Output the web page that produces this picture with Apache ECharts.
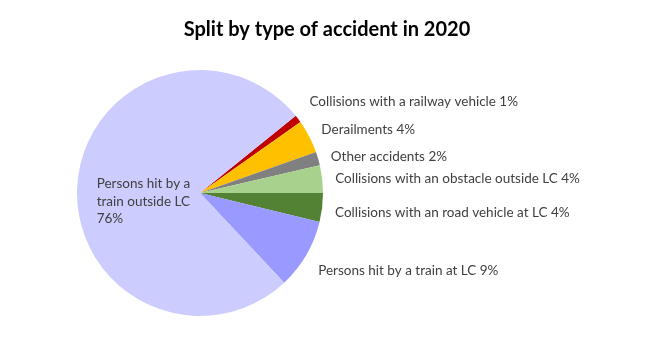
<!DOCTYPE html>
<html>
<head>
<meta charset="utf-8">
<script src="https://cdn.jsdelivr.net/npm/echarts@6/dist/echarts.min.js"></script>
<style>
html,body{margin:0;padding:0;background:#fff;}
#chart{width:665px;height:349px;}
</style>
</head>
<body>
<div id="chart"></div>
<script>
// ---- data ----
const titleText = 'Split by type of accident in 2020';
const categories = [
  'Collisions with a railway vehicle',
  'Derailments',
  'Other accidents',
  'Collisions with an obstacle outside LC',
  'Collisions with an road vehicle at LC',
  'Persons hit by a train at LC',
  'Persons hit by a train outside LC'
];
const shares = [1.0, 4.4, 1.8, 3.6, 3.8, 9.2, 76.2];
const colors = ['#C00000', '#FFC000', '#808080', '#A9D18E', '#548235', '#9999FF', '#CCCCFF'];

// ---- layout tweaks for labels (style only) ----
const labelAdjust = [
  {dy: -12},
  {dy: -3},
  {dy: 0},
  {dy: 0},
  {dy: 4},
  {dy: 12},
  {dx: -39, dy: 13, align: 'left'}
];

const chart = echarts.init(document.getElementById('chart'), null, {renderer: 'canvas'});
const FONT = 'Lato, "Open Sans", sans-serif';

const data = categories.map((c, i) => {
  const item = {name: c, value: shares[i], itemStyle: {color: colors[i]}};
  if (i === categories.length - 1) {
    item.label = {
      position: 'inside',
      formatter: 'Persons hit by a\ntrain outside LC\n{d}%',
      lineHeight: 17.5
    };
  }
  return item;
});

chart.setOption({
  animation: false,
  backgroundColor: '#ffffff',
  title: {
    text: titleText,
    left: 322,
    top: 15,
    textAlign: 'center',
    textStyle: {fontFamily: FONT, fontSize: 20, fontWeight: 'bold', color: '#000000'}
  },
  series: [{
    type: 'pie',
    center: [200, 193],
    radius: 123,
    startAngle: 38.9,
    clockwise: true,
    avoidLabelOverlap: false,
    percentPrecision: 0,
    itemStyle: {borderWidth: 0},
    label: {
      show: true,
      position: 'outside',
      formatter: '{b} {d}%',
      fontFamily: FONT,
      fontSize: 13.5,
      color: '#404040'
    },
    labelLine: {show: false, length: 8, length2: 0},
    labelLayout: function (p) { return labelAdjust[p.dataIndex]; },
    emphasis: {disabled: true},
    data: data
  }]
});
</script>
</body>
</html>
